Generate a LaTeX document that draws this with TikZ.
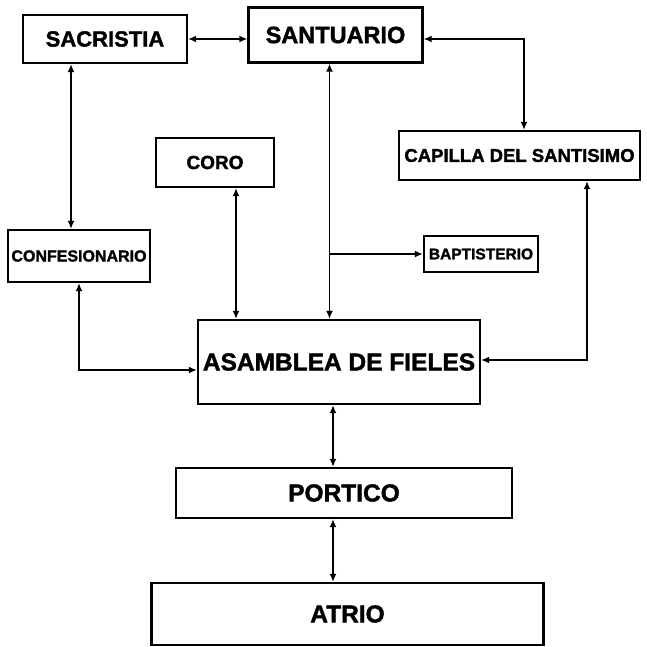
\documentclass[tikz,border=0pt]{standalone}
\usepackage{fontspec}
\setmainfont{Liberation Sans}[BoldFeatures={FakeBold=1.6}]
\usepackage{tikz}
\usetikzlibrary{positioning,arrows.meta,calc}

\newcommand{\fs}[1]{\fontsize{#1}{#1}\selectfont\bfseries}

\begin{document}
\begin{tikzpicture}[
  x=1pt, y=-1pt,
  box/.style={draw, line width=2.2pt, inner sep=0pt, align=center},
  arr/.style={{Latex[length=8pt,width=7pt]}-{Latex[length=8pt,width=7pt]}, line width=1.9pt},
  tip/.style={-{Latex[length=8pt,width=7pt]}, line width=1.9pt}
]
\useasboundingbox (0,0) rectangle (646,647);

% top row
\node[box, minimum width=164pt, minimum height=48pt] (sac) at (105,39) {\fs{22}SACRISTIA};
\node[box, minimum width=174pt, minimum height=55pt] (san) at (335.5,35) {\fs{23.5}SANTUARIO};

% middle row
\node[box, minimum width=118pt, minimum height=49pt] (coro) at (215,162.5) {\fs{19}CORO};
\node[box, minimum width=241pt, minimum height=49pt] (cap) at (519.5,155.5) {\fs{18.5}CAPILLA DEL SANTISIMO};
\node[box, minimum width=142pt, minimum height=52pt] (conf) at (79,256) {\fs{16}CONFESIONARIO};
\node[box, minimum width=114pt, minimum height=36pt] (bap) at (481,254) {\fs{15.5}BAPTISTERIO};

% nave and entrance
\node[box, minimum width=282pt, minimum height=84pt] (asm) at (339,362) {\fs{24.5}ASAMBLEA DE FIELES};
\node[box, minimum width=336pt, minimum height=50pt] (por) at (344,493) {\fs{24.5}PORTICO};
\node[box, minimum width=392pt, minimum height=62pt] (atr) at (347.5,614) {\fs{24.5}ATRIO};

\draw[arr] (sac.east) -- (sac.east -| san.west);
\draw[arr] ([yshift=-4pt]san.east) -| ([xshift=4.5pt]cap.north);
\draw[arr] ([xshift=-8pt]conf.north |- sac.south) -- ([xshift=-8pt]conf.north);
\draw[arr] (conf.south) |- ([yshift=-8pt]asm.west);
\draw[arr] ([xshift=21pt]coro.south) -- ([xshift=21pt]coro.south |- asm.north);
\draw[arr] ([xshift=-6pt]san.south) -- ([xshift=-6pt]san.south |- asm.north);
\draw[tip] ([xshift=-6pt]san.south |- bap.west) -- (bap.west);
\draw[arr] ([xshift=67.5pt]cap.south) |- ([yshift=2pt]asm.east);
\draw[arr] ([xshift=-6pt]asm.south) -- ([xshift=-6pt]asm.south |- por.north);
\draw[arr] ([xshift=-6pt]asm.south |- por.south) -- ([xshift=-6pt]asm.south |- atr.north);
\end{tikzpicture}
\end{document}
